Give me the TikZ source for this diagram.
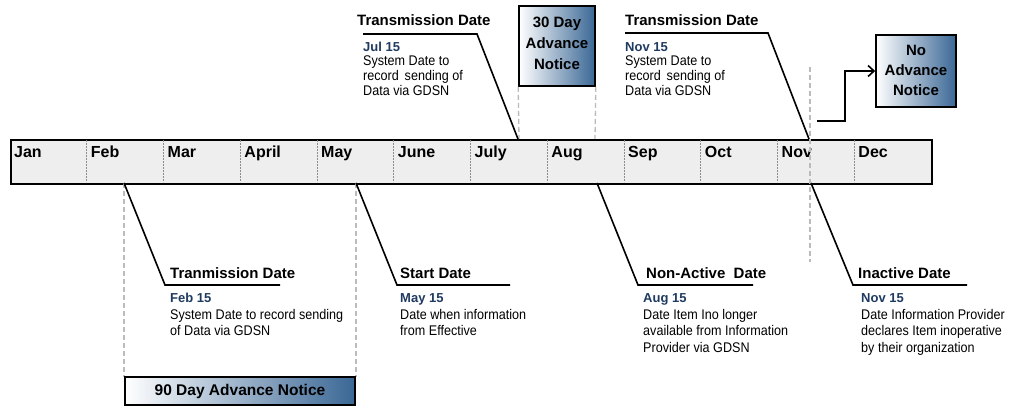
\documentclass[tikz,border=0pt]{standalone}
\usepackage{fontspec}
\setmainfont{Liberation Sans}
\newfontfamily\bodyfont[FakeStretch=0.9]{Liberation Sans}
\usetikzlibrary{arrows.meta}
\definecolor{barfill}{HTML}{EEEEEE}
\definecolor{navy}{HTML}{1F3A60}
\definecolor{steel}{HTML}{3A6795}
\definecolor{dashgray}{HTML}{BBBBBB}
\definecolor{divgray}{HTML}{8C8C8C}
\begin{document}
\begin{tikzpicture}[x=1pt,y=-1pt,
 month/.style={font=\fontsize{16}{16}\selectfont\bfseries, anchor=base west, inner sep=0},
 title/.style={font=\fontsize{15}{15}\selectfont\bfseries, anchor=base west, inner sep=0},
 sub/.style={font=\fontsize{13}{14}\selectfont\bfseries, text=navy, anchor=base west, inner sep=0},
 body/.style={font=\bodyfont\fontsize{14}{15}\selectfont, anchor=north west, inner sep=0, align=left},
 bodylow/.style={body, font=\bodyfont\fontsize{14}{16.5}\selectfont},
 callout/.style={line width=1.6pt, black},
 guide/.style={dashgray, line width=1.3pt, dash pattern=on 5pt off 3pt},
 divider/.style={divgray, line width=0.8pt, dash pattern=on 2pt off 1pt},
 notice/.style={draw=black, line width=1.6pt, left color=white, right color=steel, inner sep=0},
 noticetext/.style={font=\fontsize{15}{21}\selectfont\bfseries, align=center, inner sep=0},
]
\useasboundingbox (0,0) rectangle (1013,407);

% timeline bar
\node (bar) [fill=barfill, draw=black, line width=1.8pt, minimum width=921pt, minimum height=44pt, inner sep=0, anchor=north west] at (10,139) {};
\foreach \i in {1,...,11} {
  \draw[divider] (10+76.75*\i,140) -- (10+76.75*\i,182);
}
\foreach \m [count=\i from 0] in {Jan,Feb,Mar,April,May,June,July,Aug,Sep,Oct,Nov,Dec} {
  \node[month] (m\i) at (14+76.75*\i,157) {\m};
}

% guides
\coordinate (febpt) at (124,183);
\coordinate (maypt) at (356,183);
\coordinate (febend) at (124,377);
\coordinate (mayend) at (356,377);
\draw[guide] (febpt) -- (febend);
\draw[guide] (maypt) -- (mayend);
\coordinate (novtop) at (810,67);
\coordinate (novbot) at (810,262);
\draw[guide] (novtop) -- (novbot);

% 30 day notice
\node[notice, minimum width=76pt, minimum height=80pt] (thirty) at (557,46) {};
\node[noticetext] (thirtytxt) at (557,43) {30 Day\\Advance\\Notice};
\coordinate (tl) at (519,139);
\coordinate (tr) at (595,139);
\draw[guide] (thirty.south west) -- (tl);
\draw[guide] (thirty.south east) -- (tr);

% 90 day notice
\node[notice, minimum width=230pt, minimum height=28pt, font=\fontsize{15.5}{15.5}\selectfont\bfseries] (ninety) at (240,391) {90 Day Advance Notice};

% no advance notice
\node[notice, minimum width=80pt, minimum height=72pt] (noadv) at (916,71) {};
\node[noticetext, font=\fontsize{15}{20}\selectfont\bfseries] (noadvtxt) at (916,70) {No\\Advance\\Notice};
\coordinate (arrstart) at (817,121);
\draw[callout, -{Straight Barb[length=6pt,width=11pt]}] (arrstart) -| (845,71) -- (noadv.west);

% top callout Jul 15
\coordinate (julpt) at (518,139);
\draw[callout] (julpt) -- (477,34) -- (363,34);
\node[title] (jult) at (357,25) {Transmission Date};
\node[sub] (juls) at (363,51) {Jul 15};
\node[body] (julb) at (363,55.8) {System Date to\\record\, sending of\\Data via GDSN};

% top callout Nov 15
\coordinate (novpt) at (809,139);
\draw[callout] (novpt) -- (768,33) -- (625,33);
\node[title] (novt) at (625,25) {Transmission Date};
\node[sub] (novs) at (625,51) {Nov 15};
\node[body] (novb) at (625,55.8) {System Date to\\record\, sending of\\Data via GDSN};

% bottom callout Feb 15
\draw[callout] (febpt) -- (165,285) -- (280,285);
\node[title] (febt) at (170,278.5) {Tranmission Date};
\node[sub] (febs) at (170,302) {Feb 15};
\node[bodylow] (febb) at (170,308.8) {System Date to record sending\\of Data via GDSN};

% bottom callout May 15
\draw[callout] (maypt) -- (397,285) -- (510,285);
\node[title] (mayt) at (400,278.5) {Start Date};
\node[sub] (mays) at (400,302) {May 15};
\node[bodylow] (mayb) at (400,308.8) {Date when information\\from Effective};

% bottom callout Aug 15
\coordinate (augpt) at (597,183);
\draw[callout] (augpt) -- (638,285) -- (753,285);
\node[title] (augt) at (646,278.5) {Non-Active\ \ Date};
\node[sub] (augs) at (643,302) {Aug 15};
\node[bodylow] (augb) at (643,308.8) {Date Item Ino longer\\available from Information\\Provider via GDSN};

% bottom callout Nov 15
\coordinate (nov2pt) at (811,183);
\draw[callout] (nov2pt) -- (853,285) -- (967,285);
\node[title] (inat) at (858,278.5) {Inactive Date};
\node[sub] (inas) at (861,302) {Nov 15};
\node[bodylow] (inab) at (861,308.8) {Date Information Provider\\declares Item inoperative\\by their organization};
\end{tikzpicture}
\end{document}
